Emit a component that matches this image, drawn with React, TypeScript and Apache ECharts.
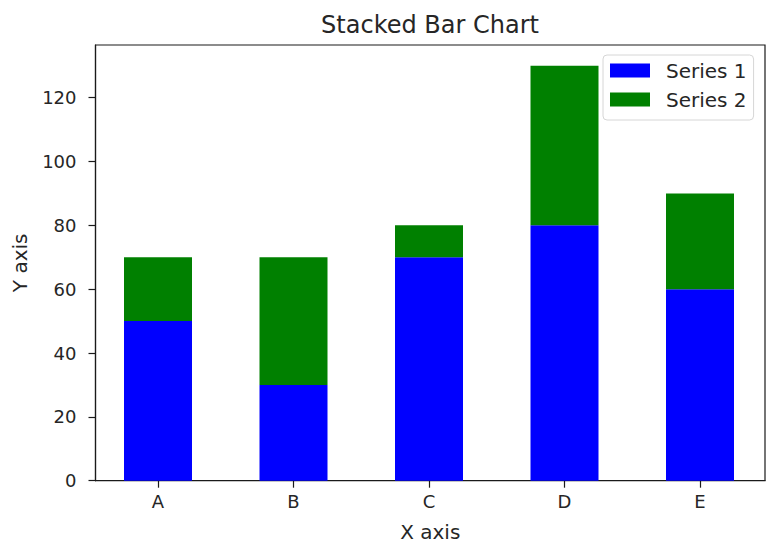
import { useRef, useEffect } from "react";
import * as echarts from "echarts";

const CATEGORIES = ["A", "B", "C", "D", "E"];
const SERIES_1 = [50, 30, 70, 80, 60];
const SERIES_2 = [20, 40, 10, 50, 30];
const Y_TICKS = [0, 20, 40, 60, 80, 100, 120];

const FONT = "DejaVu Sans";
const INK = "#262626";
const LINE = "#1a1a1a";
const Y_MAX = 136.5;

export default function App() {
  const ref = useRef<HTMLDivElement>(null);

  useEffect(() => {
    document.body.style.margin = "0";
    if (!ref.current) return;
    const chart = echarts.init(ref.current, null, { renderer: "svg" });

    chart.setOption({
      animation: false,
      backgroundColor: "#ffffff",
      textStyle: { fontFamily: FONT, color: INK },
      title: {
        text: "Stacked Bar Chart",
        left: 425,
        textAlign: "center",
        top: 8,
        textStyle: { fontFamily: FONT, fontSize: 24, fontWeight: "normal", color: INK },
      },
      legend: {
        orient: "vertical",
        left: 603,
        top: 55,
        padding: [5.5, 7, 10.5, 7],
        itemWidth: 40,
        itemHeight: 14,
        itemGap: 9,
        icon: "rect",
        borderColor: "#d6d6d6",
        borderWidth: 1,
        borderRadius: 4,
        textStyle: { fontFamily: FONT, fontSize: 20, color: INK, lineHeight: 20, padding: [0, 0, 0, 11] },
        data: ["Series 1", "Series 2"],
      },
      grid: [
        // bars: category bands of 135.5px, first centre at 158
        { left: 90.25, right: 10.25, top: 45, bottom: 75.3 },
        // frame
        {
          left: 95.5, right: 13, top: 45, bottom: 75.3,
          show: true, borderColor: LINE, borderWidth: 1.2, backgroundColor: "transparent",
        },
      ],
      xAxis: [
        {
          type: "category",
          gridIndex: 0,
          data: CATEGORIES,
          axisLine: { show: false },
          axisTick: { show: true, alignWithLabel: true, length: 7, lineStyle: { color: LINE, width: 1.2 } },
          axisLabel: { margin: 12, fontFamily: FONT, fontSize: 18, color: INK },
          splitLine: { show: false },
        },
        {
          type: "value",
          gridIndex: 1,
          min: 0,
          max: 1,
          name: "X axis",
          nameLocation: "middle",
          nameGap: 41,
          nameTextStyle: { fontFamily: FONT, fontSize: 20, color: INK },
          axisLine: { show: true, lineStyle: { color: LINE, width: 1.2 } },
          axisTick: { show: false },
          axisLabel: { show: false },
          splitLine: { show: false },
        },
      ],
      yAxis: [
        {
          type: "value",
          gridIndex: 0,
          min: 0,
          max: Y_MAX,
          show: false,
          splitLine: { show: false },
        },
        {
          type: "value",
          gridIndex: 1,
          min: 0,
          max: Y_MAX,
          name: "Y axis",
          nameLocation: "middle",
          nameGap: 66,
          nameTextStyle: { fontFamily: FONT, fontSize: 20, color: INK },
          axisLine: { show: true, onZero: false, lineStyle: { color: LINE, width: 1.2 } },
          axisTick: { show: true, customValues: Y_TICKS, length: 7, lineStyle: { color: LINE, width: 1.2 } },
          axisLabel: { customValues: Y_TICKS, margin: 19, fontFamily: FONT, fontSize: 18, color: INK },
          splitLine: { show: false },
        },
      ],
      series: [
        {
          name: "Series 1",
          type: "bar",
          stack: "total",
          xAxisIndex: 0,
          yAxisIndex: 0,
          barWidth: 68,
          itemStyle: { color: "#0000ff" },
          data: SERIES_1,
        },
        {
          name: "Series 2",
          type: "bar",
          stack: "total",
          xAxisIndex: 0,
          yAxisIndex: 0,
          barWidth: 68,
          itemStyle: { color: "#008000" },
          data: SERIES_2,
        },
      ],
    });

    return () => chart.dispose();
  }, []);

  return <div ref={ref} style={{ width: 778, height: 556 }} />;
}
